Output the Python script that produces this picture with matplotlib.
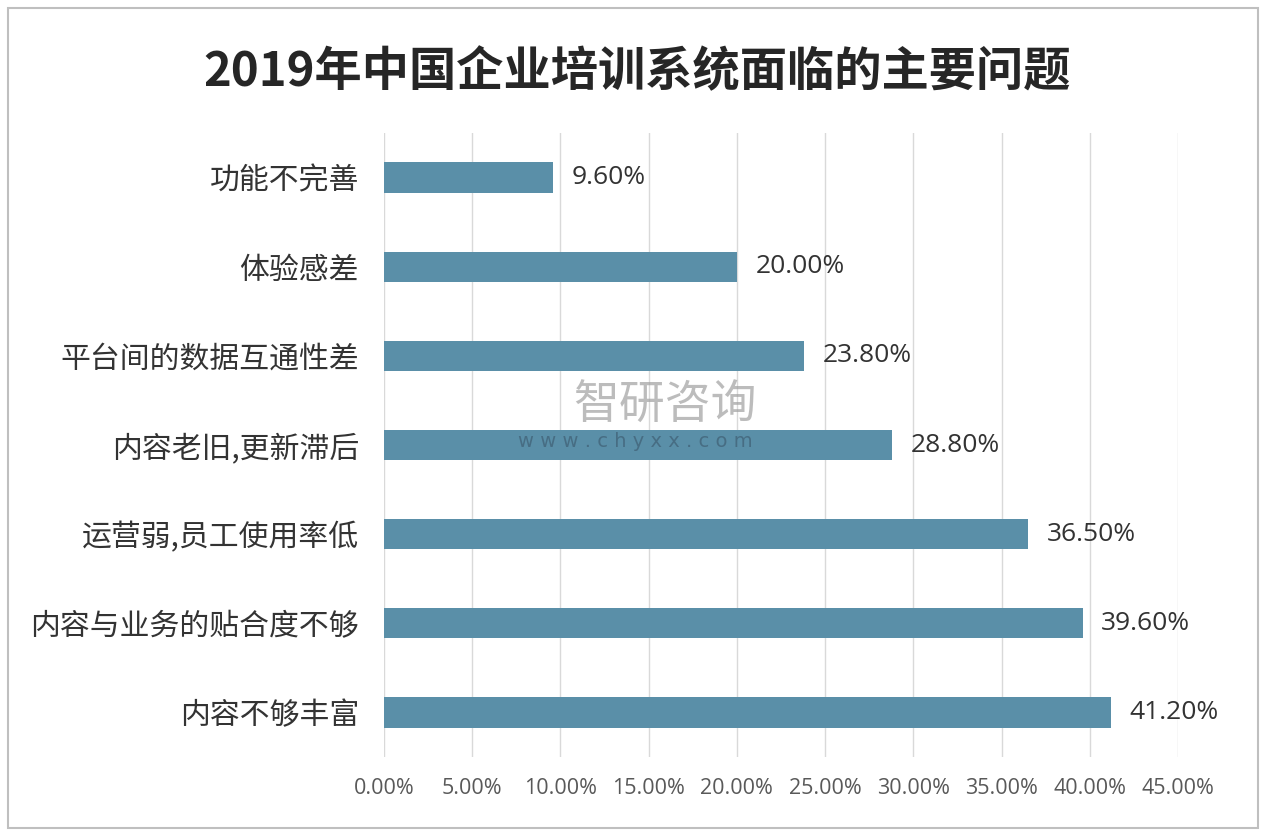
"""Horizontal bar chart: main problems faced by enterprise training systems in China, 2019."""

import matplotlib

matplotlib.use("Agg")
import matplotlib.pyplot as plt  # noqa: E402
from matplotlib.patches import Rectangle  # noqa: E402

plt.rcParams["font.family"] = ["Noto Sans CJK SC", "DejaVu Sans"]

title = "2019年中国企业培训系统面临的主要问题"
categories = [
    "功能不完善",
    "体验感差",
    "平台间的数据互通性差",
    "内容老旧,更新滞后",
    "运营弱,员工使用率低",
    "内容与业务的贴合度不够",
    "内容不够丰富",
]
values = [9.6, 20.0, 23.8, 28.8, 36.5, 39.6, 41.2]
xticks = [0, 5, 10, 15, 20, 25, 30, 35, 40, 45]

bar_color = "#5A8FA8"
grid_color = "#D9D9D9"

fig = plt.figure(figsize=(12.66, 8.36), dpi=100)
fig.patches.append(
    Rectangle((0.006, 0.009), 0.988, 0.982, transform=fig.transFigure,
              fill=False, edgecolor="#BFBFBF", linewidth=1.5)
)
ax = fig.add_axes([384 / 1266, 1 - 757 / 836, (1178 - 384) / 1266, (757 - 133) / 836])

positions = list(range(len(categories)))
ax.barh(positions, values, height=0.34, color=bar_color, zorder=3)
for pos, val in zip(positions, values):
    ax.text(val + 1.05, pos, f"{val:.2f}%", va="center", ha="left",
            fontsize=19, color="#333333", family=["Open Sans", "DejaVu Sans"])

ax.set_ylim(len(categories) - 0.5, -0.5)
ax.set_yticks(positions)
ax.set_yticklabels(categories, fontsize=21.5, color="#333333")
ax.set_xlim(0, 45)
ax.set_xticks(xticks)
ax.set_xticklabels([f"{t:.2f}%" for t in xticks], fontsize=15.5, color="#595959",
                   family=["Open Sans", "DejaVu Sans"])
ax.tick_params(axis="y", length=0, pad=18)
ax.tick_params(axis="x", length=0, pad=15)
ax.grid(axis="x", color=grid_color, linewidth=1, zorder=0)
for spine in ax.spines.values():
    spine.set_visible(False)

fig.text(0.503, 0.914, title, ha="center", va="center", fontsize=34,
         fontweight="bold", color="#262626")

# faint watermark
fig.text(0.525, 0.515, "智研咨询", ha="center", va="center", fontsize=33,
         color="#A0A0A0", alpha=0.7, zorder=5)
fig.text(0.502, 0.472, "w w w . c h y x x . c o m", ha="center", va="center",
         fontsize=14, color="#3F5F74", alpha=0.7, zorder=5,
         family=["DejaVu Sans"])

fig.savefig("out.png", dpi=100)
plt.close(fig)
